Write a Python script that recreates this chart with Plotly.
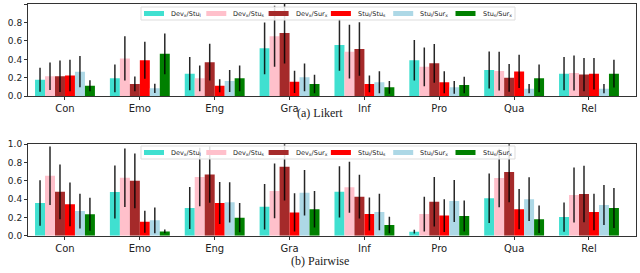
import plotly.graph_objects as go

categories = ["Con", "Emo", "Eng", "Gra", "Inf", "Pro", "Qua", "Rel"]
series_names = [
    "Dev<sub>x</sub>/Stu<sub>l</sub>",
    "Dev<sub>x</sub>/Stu<sub>s</sub>",
    "Dev<sub>x</sub>/Sur<sub>x</sub>",
    "Stu<sub>l</sub>/Stu<sub>s</sub>",
    "Stu<sub>l</sub>/Sur<sub>x</sub>",
    "Stu<sub>s</sub>/Sur<sub>x</sub>",
]
colors = ["#40E0D0", "#FFC0CB", "#A52A2A", "#FF0000", "#ADD8E6", "#008000"]

# (a) Likert: values and symmetric error half-widths per series
likert_values = [
    [0.18, 0.195, 0.245, 0.52, 0.556, 0.39, 0.285, 0.245],
    [0.217, 0.41, 0.195, 0.65, 0.484, 0.32, 0.274, 0.253],
    [0.217, 0.134, 0.37, 0.686, 0.513, 0.357, 0.20, 0.235],
    [0.225, 0.39, 0.115, 0.157, 0.134, 0.152, 0.27, 0.245],
    [0.267, 0.087, 0.166, 0.206, 0.152, 0.097, 0.083, 0.083],
    [0.115, 0.46, 0.195, 0.134, 0.097, 0.123, 0.195, 0.245],
]
likert_errors = [
    [0.13, 0.15, 0.18, 0.28, 0.28, 0.22, 0.20, 0.18],
    [0.15, 0.24, 0.14, 0.33, 0.29, 0.21, 0.21, 0.19],
    [0.17, 0.08, 0.20, 0.33, 0.29, 0.21, 0.15, 0.18],
    [0.17, 0.20, 0.07, 0.12, 0.09, 0.12, 0.18, 0.17],
    [0.17, 0.05, 0.12, 0.15, 0.12, 0.07, 0.05, 0.05],
    [0.06, 0.22, 0.14, 0.10, 0.07, 0.09, 0.15, 0.15],
]

# (b) Pairwise
pairwise_values = [
    [0.358, 0.478, 0.303, 0.317, 0.48, 0.044, 0.41, 0.204],
    [0.657, 0.635, 0.642, 0.49, 0.53, 0.237, 0.63, 0.445],
    [0.48, 0.60, 0.67, 0.755, 0.427, 0.372, 0.697, 0.456],
    [0.343, 0.153, 0.358, 0.255, 0.237, 0.22, 0.29, 0.26],
    [0.27, 0.168, 0.365, 0.47, 0.26, 0.38, 0.40, 0.336],
    [0.234, 0.047, 0.197, 0.29, 0.117, 0.215, 0.18, 0.303],
]
pairwise_errors = [
    [0.25, 0.29, 0.23, 0.25, 0.28, 0.02, 0.27, 0.16],
    [0.32, 0.32, 0.32, 0.30, 0.28, 0.19, 0.32, 0.30],
    [0.30, 0.30, 0.31, 0.37, 0.24, 0.27, 0.33, 0.31],
    [0.24, 0.12, 0.23, 0.21, 0.18, 0.18, 0.22, 0.20],
    [0.19, 0.14, 0.22, 0.25, 0.20, 0.23, 0.24, 0.22],
    [0.18, 0.02, 0.16, 0.20, 0.09, 0.17, 0.15, 0.22],
]

y_ticks = [0.0, 0.2, 0.4, 0.6, 0.8, 1.0]
captions = ["(a) Likert", "(b) Pairwise"]

W, H = 640, 273
fig = go.Figure()
panels = [(likert_values, likert_errors, "x", "y"),
          (pairwise_values, pairwise_errors, "x2", "y2")]
for vals, errs, xa, ya in panels:
    for name, color, v, e in zip(series_names, colors, vals, errs):
        fig.add_trace(go.Bar(
            x=categories, y=v, name=name, marker=dict(color=color, line=dict(width=0)),
            error_y=dict(type="data", array=e, visible=True, thickness=1.5,
                         width=0, color="rgba(0,0,0,0.85)"),
            xaxis=xa, yaxis=ya, showlegend=False, cliponaxis=False,
        ))

xdom = [28 / W, 636 / W]
top_dom = [1 - 96.3 / H, 1 - 4 / H]
bot_dom = [1 - 235.7 / H, 1 - 144.3 / H]

axis_common = dict(showline=True, linecolor="#333", linewidth=1, mirror=True,
                   ticks="outside", ticklen=3, tickcolor="#333", automargin=False,
                   tickfont=dict(family="DejaVu Sans", size=9, color="#222"),
                   showgrid=False, zeroline=False)
xrange = [-0.494, 7.628]

fig.update_layout(
    width=W, height=H, margin=dict(l=0, r=0, t=0, b=0),
    paper_bgcolor="white", plot_bgcolor="white",
    barmode="group", bargap=0.2, bargroupgap=0,
    xaxis=dict(domain=xdom, anchor="y", range=xrange, **axis_common),
    yaxis=dict(domain=top_dom, anchor="x", range=[0, 1.0], tickvals=y_ticks,
               tickformat=".1f", **axis_common),
    xaxis2=dict(domain=xdom, anchor="y2", range=xrange, **axis_common),
    yaxis2=dict(domain=bot_dom, anchor="x2", range=[0, 1.0], tickvals=y_ticks,
                tickformat=".1f", **axis_common),
    showlegend=False,
)
fig.update_xaxes(tickfont=dict(size=10))

# manual legend boxes (matplotlib-style) inside each panel
shapes = []
annotations = []
item_w = 62.3
for top_px in (7, 146):
    bx0, bx1, by0, by1 = 141, 515, top_px, top_px + 13
    shapes.append(dict(type="rect", xref="paper", yref="paper",
                       x0=bx0 / W, x1=bx1 / W, y0=1 - by1 / H, y1=1 - by0 / H,
                       fillcolor="rgba(255,255,255,0.85)", line=dict(color="#dddddd", width=1),
                       layer="above"))
    cy = top_px + 6.5
    for i, (name, color) in enumerate(zip(series_names, colors)):
        x0 = bx0 + 3 + i * item_w
        shapes.append(dict(type="rect", xref="paper", yref="paper",
                           x0=x0 / W, x1=(x0 + 20) / W,
                           y0=1 - (cy + 2.5) / H, y1=1 - (cy - 2.5) / H,
                           fillcolor=color, line=dict(width=0), layer="above"))
        annotations.append(dict(text=name, x=(x0 + 25) / W, y=1 - cy / H,
                                xref="paper", yref="paper", xanchor="left", yanchor="middle",
                                showarrow=False,
                                font=dict(family="DejaVu Sans", size=6.5, color="#222")))

annotations.append(dict(text=captions[0], x=0.5, y=1 - 113 / H, xref="paper", yref="paper",
                        xanchor="center", yanchor="middle", showarrow=False,
                        font=dict(family="Liberation Serif", size=12, color="#222")))
annotations.append(dict(text=captions[1], x=0.5, y=1 - 261 / H, xref="paper", yref="paper",
                        xanchor="center", yanchor="middle", showarrow=False,
                        font=dict(family="Liberation Serif", size=12, color="#222")))
fig.update_layout(shapes=shapes, annotations=annotations)

fig.write_html("out.html", config={"displayModeBar": False},
               post_script="document.body.style.margin='0px';document.body.style.padding='0px';")
